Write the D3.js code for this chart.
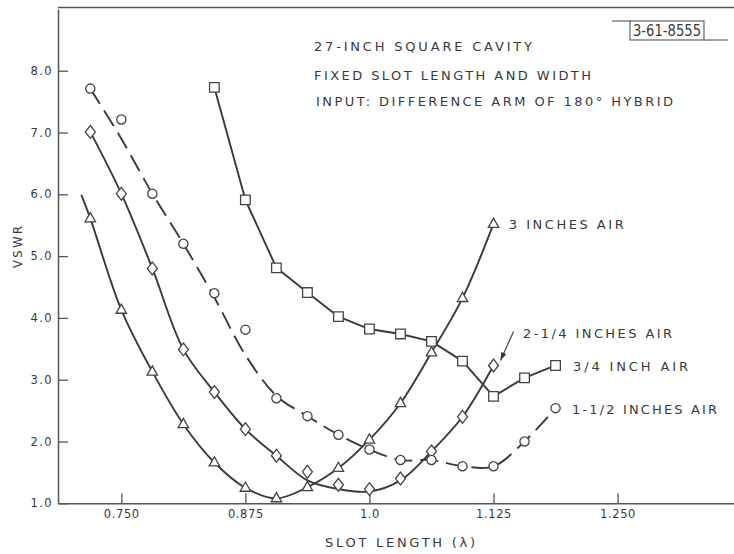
<!DOCTYPE html>
<html>
<head>
<meta charset="utf-8">
<script src="https://cdn.jsdelivr.net/npm/d3@7/dist/d3.min.js"></script>
<style>
  html, body { margin: 0; padding: 0; background: #fff; }
  svg { display: block; }
  text { font-family: "DejaVu Sans", "Liberation Sans", sans-serif; fill: #3a3a3a; }
</style>
</head>
<body>
<svg id="chart" width="734" height="554"></svg>
<script>
// Slot lengths (in wavelengths) at which VSWR was measured
const slotLength = [0.71875, 0.75, 0.78125, 0.8125, 0.84375, 0.875, 0.90625, 0.9375,
                    0.96875, 1.0, 1.03125, 1.0625, 1.09375, 1.125, 1.15625, 1.1875];

// Measured VSWR, one array per air spacing (null = not measured)
const vswr3in   = [5.61, 4.13, 3.13, 2.28, 1.66, 1.25, 1.08, 1.26, 1.57, 2.03, 2.62, 3.44, 4.32, 5.52, null, null];
const vswr214in = [7.01, 6.01, 4.80, 3.49, 2.80, 2.20, 1.77, 1.51, 1.30, 1.23, 1.40, 1.84, 2.40, 3.23, null, null];
const vswr112in = [7.71, 7.21, 6.01, 5.20, 4.40, 3.81, 2.70, 2.41, 2.11, 1.87, 1.70, 1.70, 1.60, 1.60, 2.00, 2.54];
const vswr34in  = [null, null, null, null, 7.73, 5.91, 4.81, 4.41, 4.02, 3.82, 3.74, 3.62, 3.30, 2.73, 3.03, 3.23];

// Faired curves drawn through the measurements
const curveLead3in = [0.7097, 5.99];
const curve3in   = vswr3in;
const curve214in = [7.01, 6.01, 4.80, 3.49, 2.80, 2.20, 1.77, 1.37, 1.23, 1.19, 1.37, 1.84, 2.40, 3.23, null, null];
const curve112in = [7.71, 6.90, 6.01, 5.20, 4.33, 3.40, 2.74, 2.41, 2.11, 1.87, 1.70, 1.70, 1.60, 1.60, 2.00, 2.54];
const curve34in  = vswr34in;

// Axis ticks
const xTicks = [0.75, 0.875, 1.0, 1.125, 1.25];
const xTickLabels = ["0.750", "0.875", "1.0", "1.125", "1.250"];
const yTicks = [1, 2, 3, 4, 5, 6, 7, 8];
const yTickLabels = ["1.0", "2.0", "3.0", "4.0", "5.0", "6.0", "7.0", "8.0"];

const titleLines = ["27-INCH SQUARE CAVITY", "FIXED SLOT LENGTH AND WIDTH", "INPUT: DIFFERENCE ARM OF 180° HYBRID"];
const seriesNames = ["3 INCHES AIR", "2-1/4 INCHES AIR", "1-1/2 INCHES AIR", "3/4 INCH AIR"];
const figureNumber = "3-61-8555";

const ink = "#3a3a3a";
const svg = d3.select("#chart");

const x = d3.scaleLinear().domain([0.6862, 1.3673]).range([58, 734]);
const y = d3.scaleLinear().domain([1, 9]).range([503.3, 8.9]);

// Frame top edge
svg.append("line").attr("x1", 58).attr("x2", 734).attr("y1", 7.5).attr("y2", 7.5)
  .attr("stroke", "#555").attr("stroke-width", 1.4);

// Axes with inward ticks
const xAxis = d3.axisBottom(x).tickValues(xTicks).tickFormat((d, i) => xTickLabels[i])
  .tickSizeInner(-10).tickSizeOuter(0).tickPadding(7);
const yAxis = d3.axisLeft(y).tickValues(yTicks).tickFormat((d, i) => yTickLabels[i])
  .tickSizeInner(-10).tickSizeOuter(0).tickPadding(5);

const gx = svg.append("g").attr("transform", `translate(0,${y(1)})`).call(xAxis);
const gy = svg.append("g").attr("transform", `translate(${x.range()[0]},0)`).call(yAxis);
[gx, gy].forEach(g => {
  g.select(".domain").attr("stroke", "#555").attr("stroke-width", 1.5);
  g.selectAll(".tick line").attr("stroke", "#555").attr("stroke-width", 1.3);
  g.selectAll(".tick text").attr("fill", ink).attr("font-family", "DejaVu Sans").attr("font-size", 11.5);
});
gx.selectAll(".tick text").attr("letter-spacing", 0.6);
gy.selectAll(".tick text").attr("letter-spacing", 1.4);

// Axis titles
svg.append("text").attr("x", 325).attr("y", 546.5).attr("font-size", 13)
  .attr("textLength", 150).attr("lengthAdjust", "spacing").text("SLOT LENGTH (λ)");
svg.append("text").attr("transform", "translate(21.5,247) rotate(-90)")
  .attr("text-anchor", "middle").attr("font-size", 11.5)
  .attr("textLength", 42).attr("lengthAdjust", "spacing").text("VSWR");

// Title block
const titleX = [314, 314, 316], titleY = [51.4, 79.7, 106.4], titleLen = [218, 277, 357];
titleLines.forEach((t, i) => {
  svg.append("text").attr("x", titleX[i]).attr("y", titleY[i]).attr("font-size", 13)
    .attr("textLength", titleLen[i]).attr("lengthAdjust", "spacing").text(t);
});

// Figure number stamp
const stamp = svg.append("g").attr("stroke", "#555").attr("stroke-width", 1.1).attr("fill", "none");
stamp.append("rect").attr("x", 630).attr("y", 21).attr("width", 74).attr("height", 19);
stamp.append("line").attr("x1", 612).attr("x2", 630).attr("y1", 21).attr("y2", 21);
stamp.append("line").attr("x1", 704).attr("x2", 728).attr("y1", 40).attr("y2", 40);
svg.append("text").attr("x", 667).attr("y", 36.3).attr("text-anchor", "middle")
  .attr("font-family", "Liberation Sans Narrow, DejaVu Sans Condensed, sans-serif")
  .attr("font-size", 15).attr("textLength", 68).attr("lengthAdjust", "spacingAndGlyphs")
  .text(figureNumber);

// Curves
const pts = arr => slotLength.map((s, i) => [s, arr[i]]).filter(p => p[1] != null);
const smooth = d3.line().x(d => x(d[0])).y(d => y(d[1])).curve(d3.curveCatmullRom.alpha(0.5));
const straight = d3.line().x(d => x(d[0])).y(d => y(d[1]));

const lines = svg.append("g").attr("fill", "none").attr("stroke", ink)
  .attr("stroke-width", 1.9).attr("stroke-linejoin", "round");
lines.append("path").attr("d", smooth([curveLead3in, ...pts(curve3in)]));
lines.append("path").attr("d", smooth(pts(curve214in)));
lines.append("path").attr("d", smooth(pts(curve112in))).attr("stroke-dasharray", "18,8");
lines.append("path").attr("d", straight(pts(curve34in)));

// Marker shapes
const shapes = {
  triangle: "M0,-5.8L5.2,3.4L-5.2,3.4Z",
  diamond: "M0,-6.4L5,0L0,6.4L-5,0Z",
  circle: "M4.6,0A4.6,4.6 0 1,1 -4.6,0A4.6,4.6 0 1,1 4.6,0Z",
  square: "M-4.8,-4.8H4.8V4.8H-4.8Z"
};
const markerSets = [
  [vswr3in, shapes.triangle],
  [vswr214in, shapes.diamond],
  [vswr112in, shapes.circle],
  [vswr34in, shapes.square]
];
const marks = svg.append("g").attr("fill", "#fff").attr("stroke", "#444").attr("stroke-width", 1.3);
markerSets.forEach(([vals, shape]) => {
  marks.selectAll(null).data(pts(vals)).enter().append("path")
    .attr("d", shape)
    .attr("transform", d => `translate(${x(d[0])},${y(d[1])})`);
});

// Curve labels
const labelPos = [[508.7, 228.7, 115], [523, 338, 149], [572, 413.7, 145], [573, 371.4, 115]];
seriesNames.forEach((name, i) => {
  svg.append("text").attr("x", labelPos[i][0]).attr("y", labelPos[i][1]).attr("font-size", 13)
    .attr("textLength", labelPos[i][2]).attr("lengthAdjust", "spacing").text(name);
});

// Leader arrow to the 2-1/4 inch curve
const ax = x(1.125), ay = y(vswr214in[13]);
const tip = [ax + 7, ay - 5], tail = [ax + 20, ay - 34];
svg.append("line").attr("x1", tail[0]).attr("y1", tail[1]).attr("x2", tip[0]).attr("y2", tip[1])
  .attr("stroke", ink).attr("stroke-width", 1.1);
const ang = Math.atan2(tip[1] - tail[1], tip[0] - tail[0]);
const hl = 8, hw = 2.8;
const bx = tip[0] - hl * Math.cos(ang), by = tip[1] - hl * Math.sin(ang);
svg.append("path")
  .attr("d", `M${tip[0]},${tip[1]}L${bx + hw * Math.sin(ang)},${by - hw * Math.cos(ang)}L${bx - hw * Math.sin(ang)},${by + hw * Math.cos(ang)}Z`)
  .attr("fill", ink);
</script>
</body>
</html>
